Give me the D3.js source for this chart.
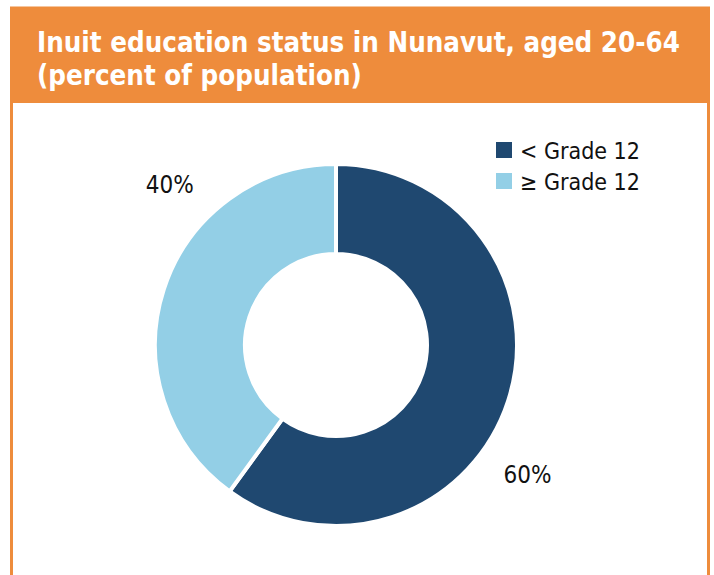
<!DOCTYPE html>
<html lang="en">
<head>
<meta charset="utf-8">
<title>Inuit education status in Nunavut</title>
<style>
  body { margin: 0; background: #fff; }
  svg { display: block; }
</style>
<script src="https://d3js.org/d3.v7.min.js"></script>
</head>
<body>
<div id="chart"></div>
<script>
var categories = ["< Grade 12", "\u2265 Grade 12"];
var values     = [60, 40];
var labels     = ["60%", "40%"];
var colours    = ["#1f4870", "#93cfe6"];
var titleLines = ["Inuit education status in Nunavut, aged 20-64", "(percent of population)"];

var width = 714, height = 575;
var cx = 336, cy = 345, outerR = 181, innerR = 91;
var font = "'DejaVu Sans Condensed', 'DejaVu Sans', sans-serif";

var svg = d3.select("#chart").append("svg")
  .attr("width", width).attr("height", height);

// frame and header band
svg.append("rect").attr("x", 11.5).attr("y", 8).attr("width", 697).attr("height", 600)
  .attr("fill", "#fff").attr("stroke", "#ee8c3c").attr("stroke-width", 3);
svg.append("rect").attr("x", 10).attr("y", 8).attr("width", 700).attr("height", 95)
  .attr("fill", "#ee8c3c");

var titles = svg.selectAll("text.title").data(titleLines).enter().append("text")
  .attr("class", "title")
  .attr("fill", "#fff").style("font-family", font).style("font-weight", "bold")
  .style("font-size", "29px")
  .text(function (d) { return d; });
// squeeze the title horizontally so the first line spans the band like the original
var sx = 643 / titles.node().getComputedTextLength();
titles.attr("transform", function (d, i) {
  return "translate(37," + (52 + i * 33) + ") scale(" + sx + ",1)";
});

var pie = d3.pie().sort(null).value(function (d) { return d; });
var arcs = pie(values);
var arc = d3.arc().innerRadius(innerR).outerRadius(outerR);

var g = svg.append("g").attr("transform", "translate(" + cx + "," + cy + ")");
g.selectAll("path").data(arcs).enter().append("path")
  .attr("d", arc)
  .attr("fill", function (d, i) { return colours[i]; })
  .attr("stroke", "#fff").attr("stroke-width", 4).attr("stroke-linejoin", "miter");

// data labels placed outside the ring, slightly clockwise from each slice middle
var labelShift = [16, 26];
var labelR = 231;
g.selectAll("text.val").data(arcs).enter().append("text")
  .attr("class", "val")
  .attr("x", function (d, i) {
    var a = (d.startAngle + d.endAngle) / 2 + labelShift[i] * Math.PI / 180;
    return Math.sin(a) * labelR;
  })
  .attr("y", function (d, i) {
    var a = (d.startAngle + d.endAngle) / 2 + labelShift[i] * Math.PI / 180;
    return -Math.cos(a) * labelR;
  })
  .attr("text-anchor", "middle").attr("dy", "0.36em")
  .style("font-family", font).style("font-size", "24px").attr("fill", "#111")
  .text(function (d, i) { return labels[i]; });

// legend
var legend = svg.selectAll("g.leg").data(categories).enter().append("g")
  .attr("class", "leg")
  .attr("transform", function (d, i) { return "translate(496," + (142 + i * 31) + ")"; });
legend.append("rect").attr("width", 16).attr("height", 16)
  .attr("fill", function (d, i) { return colours[i]; });
legend.append("text").attr("x", 24).attr("y", 16.5)
  .style("font-family", font).style("font-size", "23px").attr("fill", "#111")
  .text(function (d) { return d; });
</script>
</body>
</html>
